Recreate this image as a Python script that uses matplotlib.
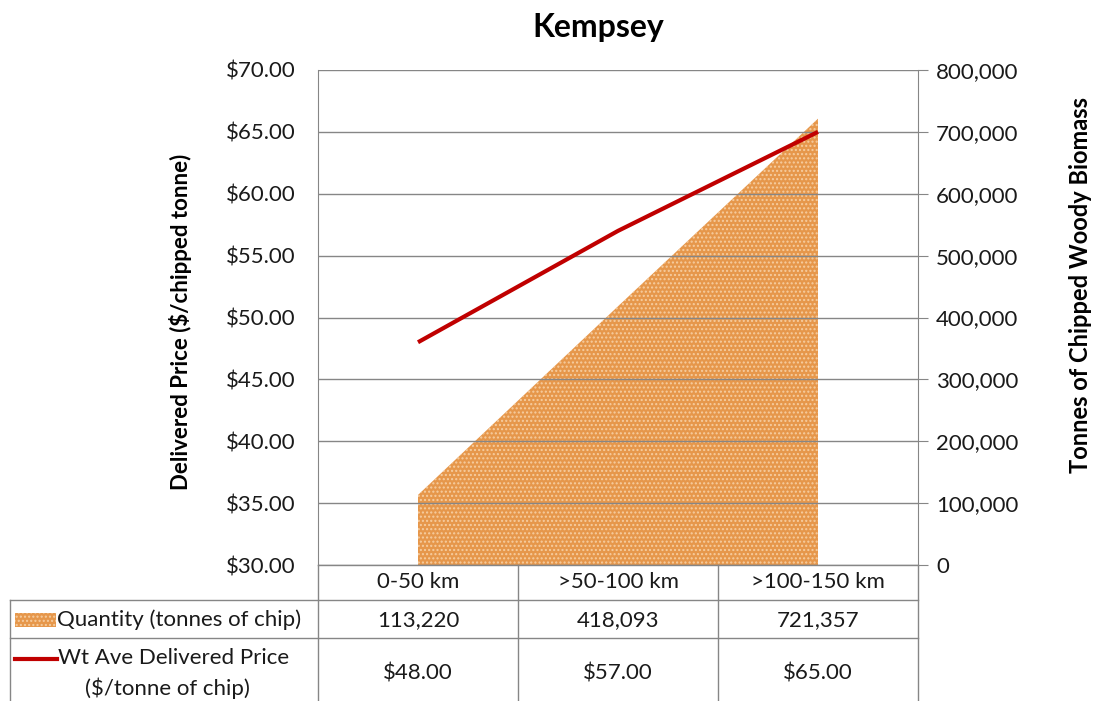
import numpy as np
import matplotlib.pyplot as plt
from matplotlib.ticker import FuncFormatter
from matplotlib.patches import Rectangle
import matplotlib as mpl

plt.rcParams['font.family'] = ['Lato', 'DejaVu Sans']
mpl.rcParams['hatch.linewidth'] = 1.0

# data
categories = ["0-50 km", ">50-100 km", ">100-150 km"]
quantity = [113220, 418093, 721357]
price = [48.00, 57.00, 65.00]
qty_labels = ["113,220", "418,093", "721,357"]
price_labels = ["$48.00", "$57.00", "$65.00"]

W, H = 1095, 701
fig = plt.figure(figsize=(W / 100, H / 100), dpi=100)
L, R, T, B = 318, 918, 70, 565
ax = fig.add_axes([L / W, 1 - B / H, (R - L) / W, (B - T) / H])
ax2 = ax.twinx()

grey = "#868686"
orange = "#E6974B"
dots = "#F6CDA0"
red = "#C00000"
txt = "#1a1a1a"
fs = 16

x = np.arange(len(categories))

# area on secondary axis
ax2.fill_between(x, 0, quantity, facecolor=orange, edgecolor=dots,
                 hatch="....", linewidth=0, zorder=1)
ax2.set_ylim(0, 800000)
ax2.set_yticks(np.arange(0, 800001, 100000))
ax2.yaxis.set_major_formatter(FuncFormatter(lambda v, p: f"{int(v):,}"))

# line on primary axis, drawn on top
ax.set_zorder(ax2.get_zorder() + 1)
ax.patch.set_visible(False)
ax.plot(x, price, color=red, lw=3, solid_capstyle="butt")
ax.set_ylim(30, 70)
ax.set_yticks(np.arange(30, 71, 5))
ax.yaxis.set_major_formatter(FuncFormatter(lambda v, p: f"${v:.2f}"))
ax.set_xlim(-0.5, 2.5)
ax.set_xticks([])

ax.grid(axis="y", color=grey, lw=1)
ax.set_axisbelow(True)
ax2.grid(False)

for a in (ax, ax2):
    for s in ("top", "bottom"):
        a.spines[s].set_visible(False)
    a.spines["left"].set_color(grey)
    a.spines["right"].set_color(grey)
ax2.spines["left"].set_visible(False)
ax.spines["right"].set_visible(False)

ax.tick_params(axis="y", length=0, pad=16, labelsize=fs, colors=txt)
ax2.tick_params(axis="y", length=7, color=grey, pad=6, labelsize=fs,
                labelcolor=txt)
ax.tick_params(axis="x", length=0)

fig.text(598 / W, 1 - 27 / H, "Kempsey", ha="center", va="center",
         fontsize=23, fontweight="bold")
fig.text(181 / W, 1 - 322 / H, "Delivered Price ($/chipped tonne)",
         rotation=90, ha="center", va="center", fontsize=16, fontweight="bold")
fig.text(1081 / W, 1 - 285 / H, "Tonnes of Chipped Woody Biomass",
         rotation=90, ha="center", va="center", fontsize=17, fontweight="bold")

# data table below the plot (drawn in pixel-like axes coordinates)
def ax_x(px):
    return (px - L) / (R - L)


def ax_y(py):
    return (B - py) / (B - T)


def tline(x0, y0, x1, y1):
    ax.plot([ax_x(x0), ax_x(x1)], [ax_y(y0), ax_y(y1)], color=grey, lw=1,
            transform=ax.transAxes, clip_on=False)


tline(L, B, R, B)
tline(10, 600, R, 600)
tline(10, 638, R, 638)
tline(10, 600, 10, H + 5)
for px in (318, 518, 718, 918):
    tline(px, B, px, H + 5)

cell_kw = dict(transform=ax.transAxes, ha="center", va="center",
               fontsize=fs, color=txt, clip_on=False)
for i in range(len(categories)):
    cx = ax_x(418 + 200 * i)
    ax.text(cx, ax_y(582), categories[i], **cell_kw)
    ax.text(cx, ax_y(620), qty_labels[i], **cell_kw)
    ax.text(cx, ax_y(673), price_labels[i], **cell_kw)

ax.add_patch(Rectangle((ax_x(15), ax_y(627)), ax_x(56) - ax_x(15),
                       ax_y(613) - ax_y(627), facecolor=orange,
                       edgecolor=dots, hatch="....", lw=0,
                       transform=ax.transAxes, clip_on=False))
ax.text(ax_x(57), ax_y(620), "Quantity (tonnes of chip)", transform=ax.transAxes,
        ha="left", va="center", fontsize=fs, color=txt, clip_on=False)
ax.plot([ax_x(15), ax_x(57)], [ax_y(659), ax_y(659)], color=red, lw=3,
        transform=ax.transAxes, clip_on=False)
ax.text(ax_x(58), ax_y(658), "Wt Ave Delivered Price", transform=ax.transAxes,
        ha="left", va="center", fontsize=fs, color=txt, clip_on=False)
ax.text(ax_x(167), ax_y(688), "($/tonne of chip)", transform=ax.transAxes,
        ha="center", va="center", fontsize=fs, color=txt, clip_on=False)

fig.savefig("out.png", dpi=100)
